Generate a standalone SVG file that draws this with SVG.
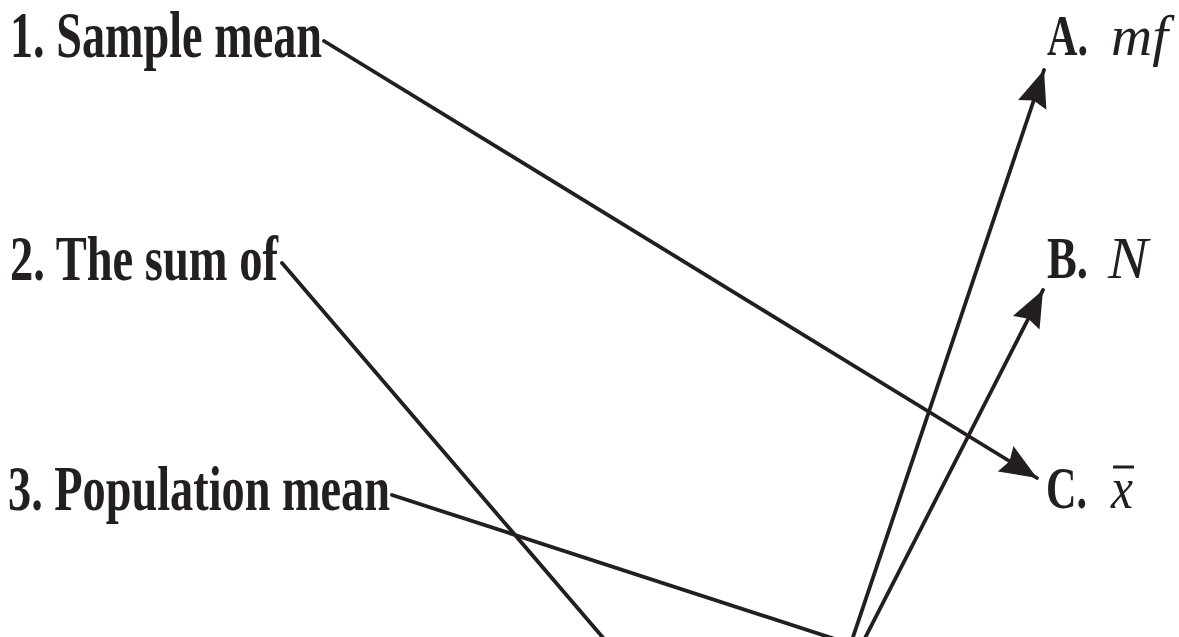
<svg xmlns="http://www.w3.org/2000/svg" width="1179" height="637" viewBox="0 0 1179 637">
<defs>
<style>
.lbl{font-family:"Liberation Serif","Times New Roman",serif;font-weight:700;fill:#231f20;}
.it{font-family:"Liberation Serif","Times New Roman",serif;font-style:italic;font-weight:400;fill:#231f20;}
.conn{stroke:#231f20;stroke-width:3.8;fill:none;stroke-linecap:round;}
</style>
<marker id="ah" markerUnits="userSpaceOnUse" markerWidth="46" markerHeight="46" viewBox="-36 -18 40 36" refX="0" refY="0" orient="auto">
<path d="M0,0 L-32,-13 L-28,0 L-32,13 Z" fill="#231f20"/>
</marker>
</defs>
<rect width="1179" height="637" fill="#ffffff"/>
<g id="connectors">
<line class="conn" x1="324" y1="41" x2="1037" y2="478" marker-end="url(#ah)"/>
<line class="conn" x1="282" y1="263" x2="605" y2="640"/>
<line class="conn" x1="392" y1="495" x2="838" y2="640"/>
<line class="conn" x1="852" y1="640" x2="1044" y2="70" marker-end="url(#ah)"/>
<line class="conn" x1="864" y1="640" x2="1043" y2="290" marker-end="url(#ah)"/>
</g>
<g id="node-1"><text class="lbl" x="10" y="57" font-size="65" textLength="312" lengthAdjust="spacingAndGlyphs">1. Sample mean</text></g>
<g id="node-2"><text class="lbl" x="10" y="280" font-size="63" textLength="268" lengthAdjust="spacingAndGlyphs">2. The sum of</text></g>
<g id="node-3"><text class="lbl" x="8" y="510" font-size="63" textLength="382" lengthAdjust="spacingAndGlyphs">3. Population mean</text></g>
<g id="node-A"><text class="lbl" x="1047" y="55" font-size="57" textLength="41" lengthAdjust="spacingAndGlyphs">A.</text><text class="it" x="1111" y="55" font-size="57" textLength="57" lengthAdjust="spacingAndGlyphs">mf</text></g>
<g id="node-B"><text class="lbl" x="1047" y="278" font-size="59" textLength="41" lengthAdjust="spacingAndGlyphs">B.</text><text class="it" x="1108" y="278" font-size="59" textLength="40" lengthAdjust="spacingAndGlyphs">N</text></g>
<g id="node-C"><text class="lbl" x="1046" y="508" font-size="59" textLength="41" lengthAdjust="spacingAndGlyphs">C.</text><text class="it" x="1111" y="508" font-size="59" textLength="22" lengthAdjust="spacingAndGlyphs">x</text><line x1="1113" y1="467" x2="1134" y2="467" stroke="#231f20" stroke-width="3"/></g>
</svg>
